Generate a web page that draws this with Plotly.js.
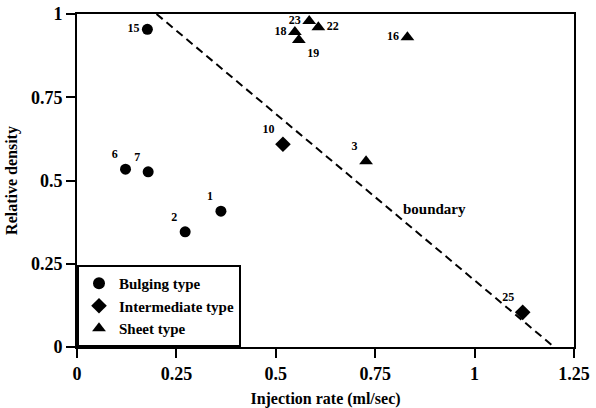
<!DOCTYPE html>
<html>
<head>
<meta charset="utf-8">
<script src="https://cdn.plot.ly/plotly-3.0.1.min.js"></script>
</head>
<body style="margin:0">
<div id="chart"></div>
<script>
// Bulging type
const bulgingIds = ['15', '6', '7', '1', '2'];
const bulgingX = [0.177, 0.122, 0.179, 0.362, 0.272];
const bulgingY = [0.954, 0.534, 0.526, 0.408, 0.346];
// Intermediate type
const interIds = ['10', '25'];
const interX = [0.518, 1.121];
const interY = [0.609, 0.104];
// Sheet type
const sheetIds = ['18', '23', '19', '22', '16', '3'];
const sheetX = [0.548, 0.584, 0.558, 0.607, 0.831, 0.727];
const sheetY = [0.946, 0.979, 0.922, 0.960, 0.930, 0.558];
// Boundary line
const boundaryX = [0.2, 1.2];
const boundaryY = [1.0, 0.0];
// Axis ticks
const xTicks = [0, 0.25, 0.5, 0.75, 1, 1.25];
const xTickText = ['0', '0.25', '0.5', '0.75', '1', '1.25'];
const yTicks = [0, 0.25, 0.5, 0.75, 1];
const yTickText = ['0', '0.25', '0.5', '0.75', '1'];

const FAM = 'Liberation Serif';

const traces = [
  {
    x: boundaryX, y: boundaryY, mode: 'lines', showlegend: false, hoverinfo: 'skip',
    line: {color: '#000', width: 2, dash: '8px,5px'}
  },
  {
    name: 'Bulging type', x: bulgingX, y: bulgingY, text: bulgingIds,
    mode: 'markers+text', cliponaxis: false,
    textposition: ['middle left', 'top left', 'top left', 'top left', 'top left'],
    textfont: {family: FAM, size: 12, color: '#000', weight: 'bold'},
    marker: {symbol: 'circle', size: 11, color: '#000'}
  },
  {
    name: 'Intermediate type', x: interX, y: interY, text: interIds,
    mode: 'markers+text', cliponaxis: false,
    textposition: ['top left', 'top left'],
    textfont: {family: FAM, size: 12, color: '#000', weight: 'bold'},
    marker: {symbol: 'diamond', size: 12, color: '#000'}
  },
  {
    name: 'Sheet type', x: sheetX, y: sheetY, text: sheetIds,
    mode: 'markers+text', cliponaxis: false,
    textposition: ['middle left', 'middle left', 'bottom right', 'middle right', 'middle left', 'top left'],
    textfont: {family: FAM, size: 12, color: '#000', weight: 'bold'},
    marker: {symbol: 'triangle-up', size: 12, color: '#000'}
  }
];

const layout = {
  width: 596, height: 408,
  margin: {l: 77, r: 22, t: 14, b: 61},
  paper_bgcolor: '#ffffff', plot_bgcolor: '#ffffff',
  font: {family: FAM, color: '#000000'},
  xaxis: {
    showline: true, linecolor: '#000', linewidth: 2, mirror: true,
    ticks: 'outside', ticklen: 9, tickwidth: 2, tickcolor: '#000',
    showgrid: false, zeroline: false,
    tickfont: {family: FAM, size: 18, color: '#000', weight: 'bold'},
    range: [0, 1.25], tickvals: xTicks, ticktext: xTickText,
    title: {text: 'Injection rate (ml/sec)', font: {family: FAM, size: 16, color: '#000', weight: 'bold'}, standoff: 11}
  },
  yaxis: {
    showline: true, linecolor: '#000', linewidth: 2, mirror: true,
    ticks: 'outside', ticklen: 9, tickwidth: 2, tickcolor: '#000',
    showgrid: false, zeroline: false,
    tickfont: {family: FAM, size: 18, color: '#000', weight: 'bold'},
    range: [0, 1], tickvals: yTicks, ticktext: yTickText,
    title: {text: 'Relative density', font: {family: FAM, size: 16, color: '#000', weight: 'bold'}, standoff: 9}
  },
  legend: {
    x: 0, y: 0, xanchor: 'left', yanchor: 'bottom',
    bgcolor: '#fff', bordercolor: '#000', borderwidth: 2,
    font: {family: FAM, size: 15, color: '#000', weight: 'bold'},
    tracegroupgap: 0, itemsizing: 'constant'
  },
  annotations: [
    {x: 0.815, y: 0.414, xref: 'x', yref: 'y', text: 'boundary', showarrow: false,
     xanchor: 'left', yanchor: 'middle', font: {family: FAM, size: 15, color: '#000', weight: 'bold'}}
  ]
};

Plotly.newPlot('chart', traces, layout, {displayModeBar: false, staticPlot: true});
</script>
</body>
</html>
